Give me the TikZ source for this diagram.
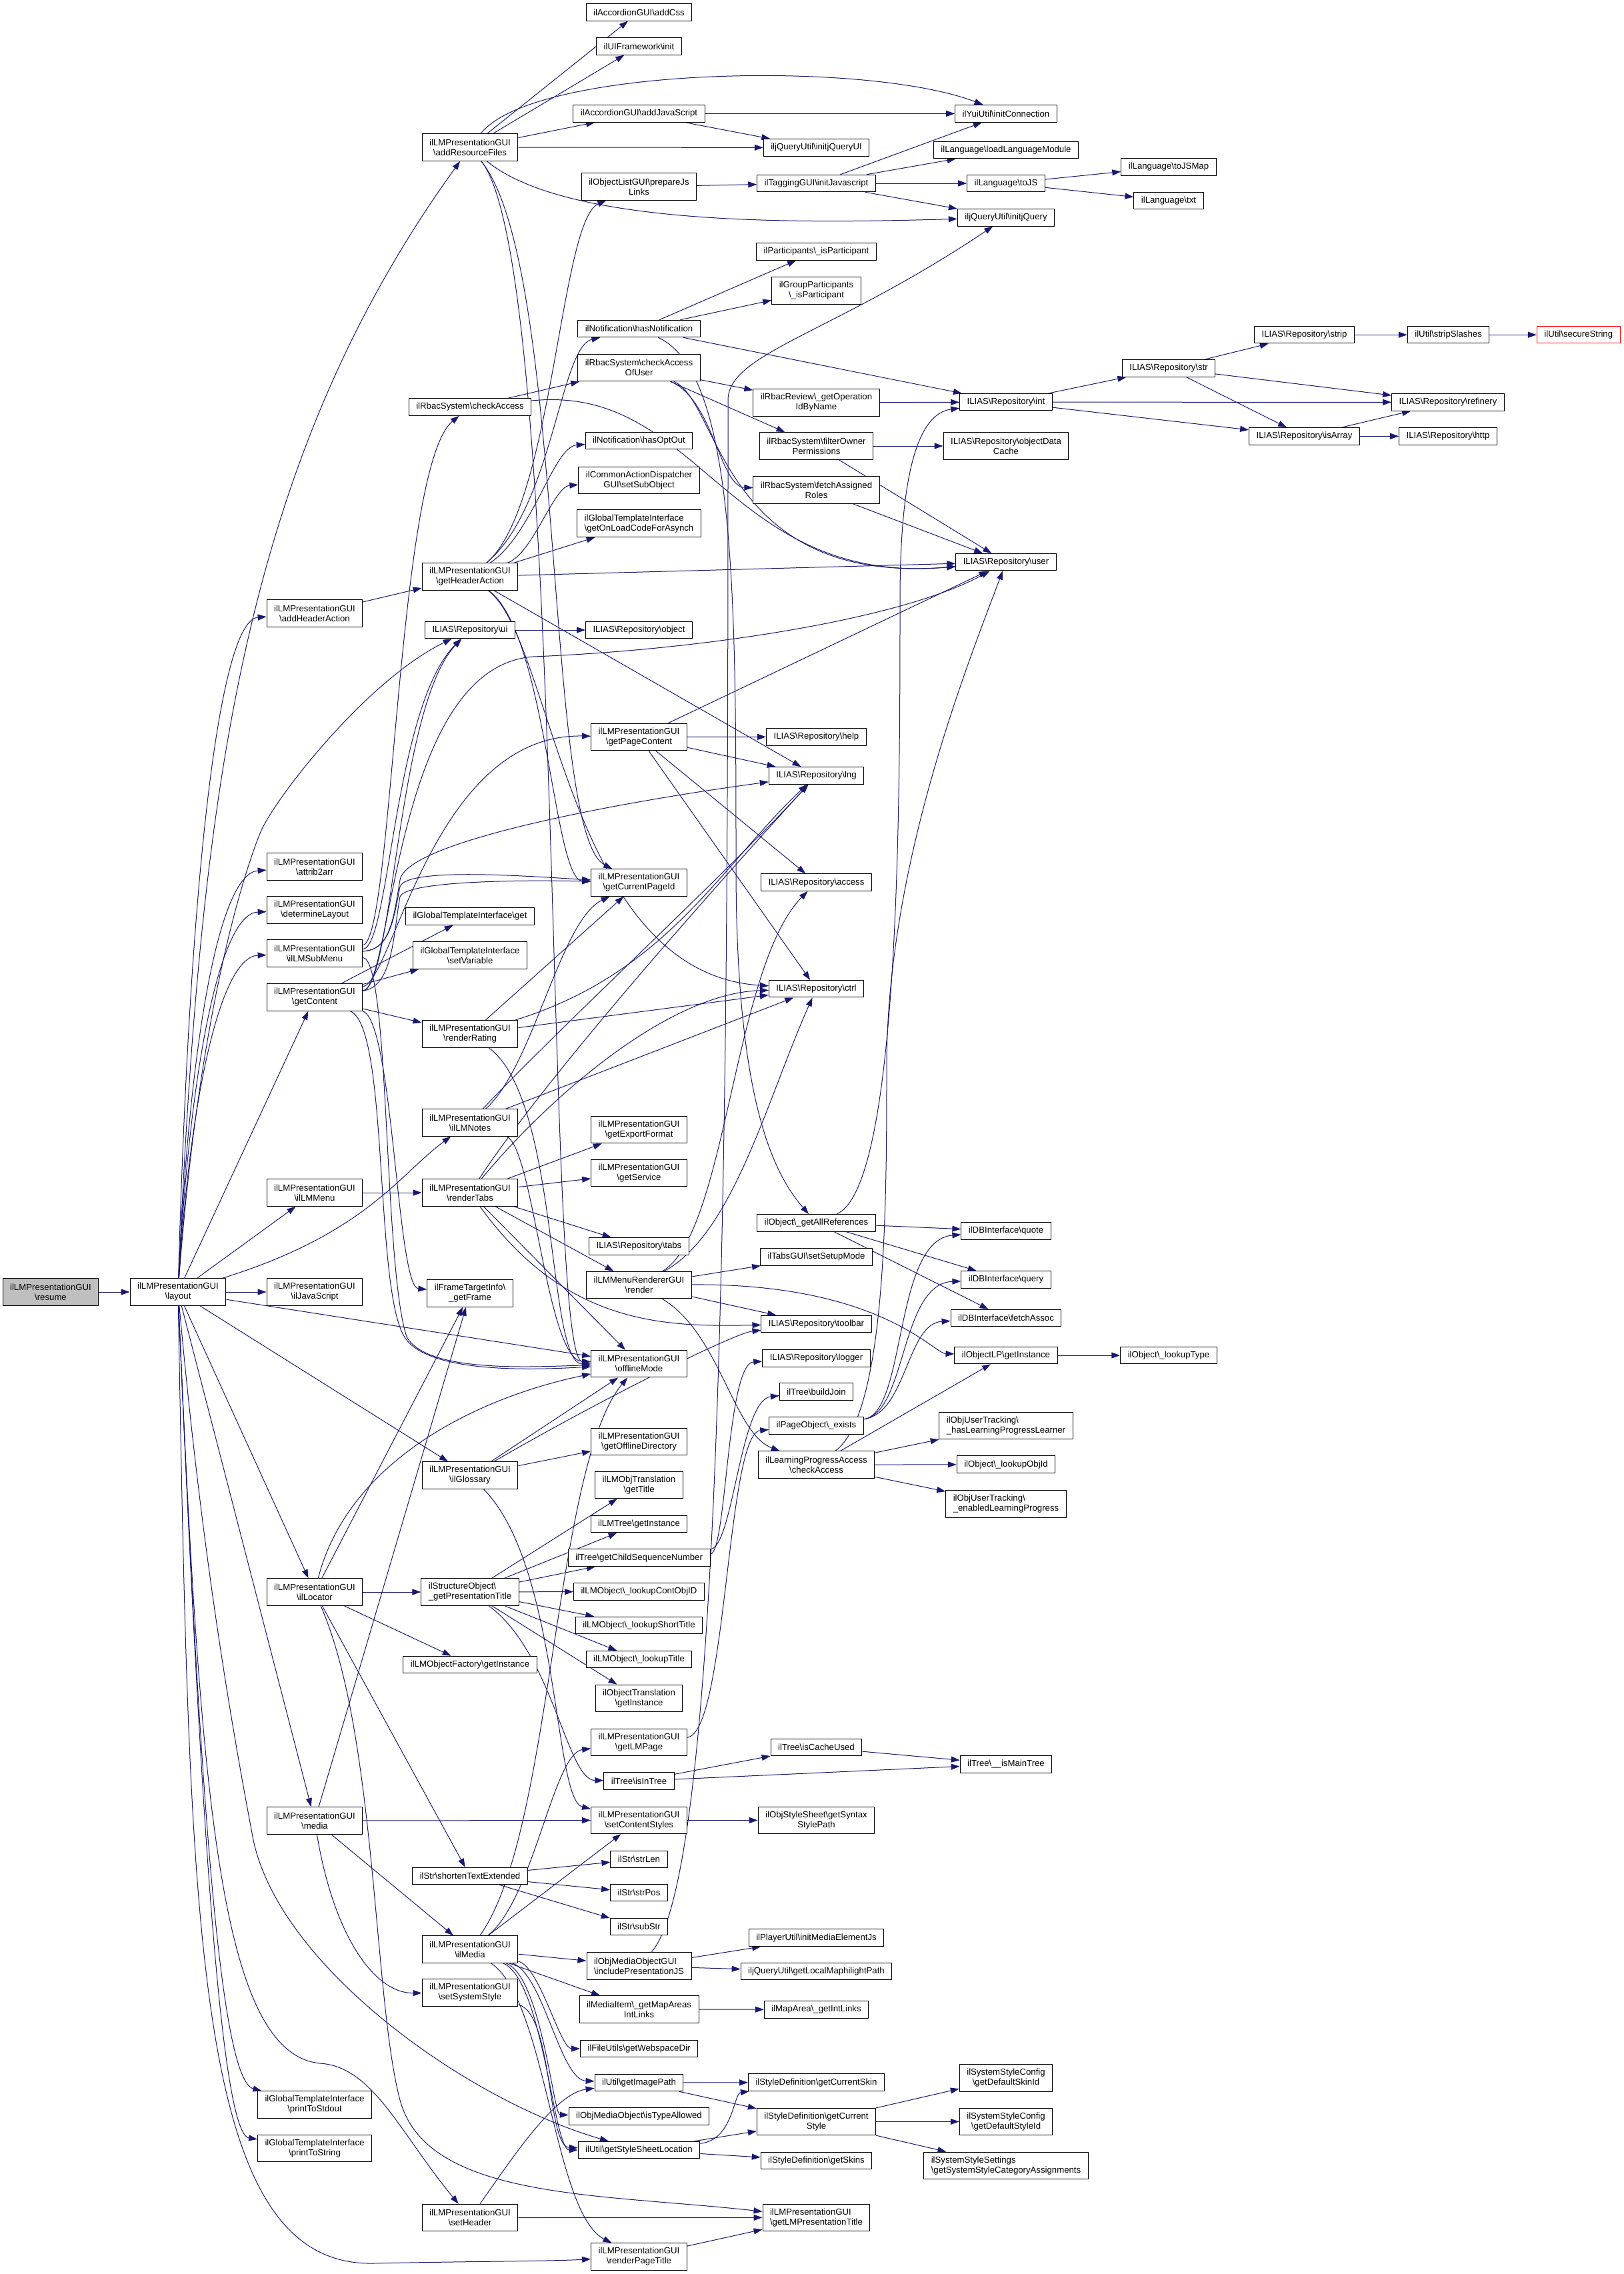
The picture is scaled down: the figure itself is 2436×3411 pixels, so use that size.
\documentclass[tikz,border=0pt]{standalone}
\usepackage{fontspec}
\setmainfont{Liberation Sans}
\usetikzlibrary{arrows.meta}
\pgfdeclarelayer{bg}
\pgfsetlayers{bg,main}
\definecolor{edgec}{HTML}{191970}
\definecolor{grayfill}{HTML}{BFBFBF}
\newcommand{\bsl}{\textbackslash}
\newcommand{\dxfont}{\fontsize{13.2}{15}\selectfont}
\tikzset{
  box/.style={draw=black, line width=1pt, fill=white, font=\dxfont, inner xsep=11pt, inner ysep=2pt, minimum height=25.5pt, align=center},
  box2/.style={box, minimum height=40.5pt},
  boxl/.style={box2, align=left},
  e/.style={draw=edgec, line width=1pt, -{Triangle[length=13pt,width=9pt]}},
}
\begin{document}
\begin{tikzpicture}[x=1pt,y=-1pt]
\useasboundingbox (0,0) rectangle (2436,3411);
% column 1-2
\node[box2,fill=grayfill] (resume) at (76,1938) {ilLMPresentationGUI\\\bsl resume};
\node[box2] (layout) at (267,1938) {ilLMPresentationGUI\\\bsl layout};
% column 3
\node[box2] (addHeaderAction) at (472,920) {ilLMPresentationGUI\\\bsl addHeaderAction};
\node[box2] (attrib2arr) at (472,1300) {ilLMPresentationGUI\\\bsl attrib2arr};
\node[box2] (determineLayout) at (472,1365) {ilLMPresentationGUI\\\bsl determineLayout};
\node[box2] (lmSubMenu) at (472,1430) {ilLMPresentationGUI\\\bsl ilLMSubMenu};
\node[box2] (getContent) at (472,1496) {ilLMPresentationGUI\\\bsl getContent};
\node[box2] (lmMenu) at (472,1789) {ilLMPresentationGUI\\\bsl ilLMMenu};
\node[box2] (ilJavaScript) at (472,1938) {ilLMPresentationGUI\\\bsl ilJavaScript};
\node[box2] (ilLocator) at (472,2388) {ilLMPresentationGUI\\\bsl ilLocator};
\node[box2] (media) at (472,2731) {ilLMPresentationGUI\\\bsl media};
\node[box2] (printToStdout) at (472,3157) {ilGlobalTemplateInterface\\\bsl printToStdout};
\node[box2] (printToString) at (472,3222.5) {ilGlobalTemplateInterface\\\bsl printToString};
% column 4
\node[box2] (addResourceFiles) at (705,221) {ilLMPresentationGUI\\\bsl addResourceFiles};
\node[box] (rbacCheckAccess) at (705,610.5) {ilRbacSystem\bsl checkAccess};
\node[box2] (getHeaderAction) at (705,865) {ilLMPresentationGUI\\\bsl getHeaderAction};
\node[box] (repoUi) at (705,945) {ILIAS\bsl Repository\bsl ui};
\node[box] (gtiGet) at (705,1374.5) {ilGlobalTemplateInterface\bsl get};
\node[box2] (gtiSetVariable) at (705,1433) {ilGlobalTemplateInterface\\\bsl setVariable};
\node[box2] (renderRating) at (705,1551) {ilLMPresentationGUI\\\bsl renderRating};
\node[box2] (lmNotes) at (705,1684) {ilLMPresentationGUI\\\bsl ilLMNotes};
\node[box2] (renderTabs) at (705,1789) {ilLMPresentationGUI\\\bsl renderTabs};
\node[box2] (getFrame) at (705,1940) {ilFrameTargetInfo\bsl\\\_getFrame};
\node[box2] (glossary) at (705,2213) {ilLMPresentationGUI\\\bsl ilGlossary};
\node[boxl] (getPresTitle) at (705,2388) {ilStructureObject\bsl\\\_getPresentationTitle};
\node[box] (lmObjFactory) at (705,2497) {ilLMObjectFactory\bsl getInstance};
\node[box] (shortenText) at (705,2814) {ilStr\bsl shortenTextExtended};
\node[box2] (ilMedia) at (705,2924) {ilLMPresentationGUI\\\bsl ilMedia};
\node[box2] (setSystemStyle) at (705,2989) {ilLMPresentationGUI\\\bsl setSystemStyle};
\node[box2] (setHeader) at (705,3326.5) {ilLMPresentationGUI\\\bsl setHeader};
% column 5
\node[box] (addCss) at (958.5,18.3) {ilAccordionGUI\bsl addCss};
\node[box] (uiInit) at (958.5,69.4) {ilUIFramework\bsl init};
\node[box] (addJS) at (958.5,170.4) {ilAccordionGUI\bsl addJavaScript};
\node[box2] (prepareJs) at (958.5,280) {ilObjectListGUI\bsl prepareJs\\Links};
\node[box] (hasNotif) at (958.5,493) {ilNotification\bsl hasNotification};
\node[box2] (checkAccessOfUser) at (958.5,551.6) {ilRbacSystem\bsl checkAccess\\OfUser};
\node[box] (hasOptOut) at (958.5,661) {ilNotification\bsl hasOptOut};
\node[box2] (setSubObject) at (958.5,720.3) {ilCommonActionDispatcher\\GUI\bsl setSubObject};
\node[boxl] (getOnLoad) at (958.5,785.2) {ilGlobalTemplateInterface\\\bsl getOnLoadCodeForAsynch};
\node[box] (repoObject) at (958.5,945) {ILIAS\bsl Repository\bsl object};
\node[box2] (getPageContent) at (958.5,1105.5) {ilLMPresentationGUI\\\bsl getPageContent};
\node[box2] (getCurrentPageId) at (958.5,1324) {ilLMPresentationGUI\\\bsl getCurrentPageId};
\node[box2] (getExportFormat) at (958.5,1694.6) {ilLMPresentationGUI\\\bsl getExportFormat};
\node[box2] (getService) at (958.5,1759.4) {ilLMPresentationGUI\\\bsl getService};
\node[box] (repoTabs) at (958.5,1869.3) {ILIAS\bsl Repository\bsl tabs};
\node[box2] (menuRender) at (958.5,1927.5) {ilLMMenuRendererGUI\\\bsl render};
\node[box2] (offlineMode) at (958.5,2045.7) {ilLMPresentationGUI\\\bsl offlineMode};
\node[box2] (getOfflineDir) at (958.5,2162.5) {ilLMPresentationGUI\\\bsl getOfflineDirectory};
\node[box2] (lmObjTransTitle) at (958.5,2227.4) {ilLMObjTranslation\\\bsl getTitle};
\node[box] (lmTreeInst) at (958.5,2286) {ilLMTree\bsl getInstance};
\node[box] (childSeq) at (958.5,2336.6) {ilTree\bsl getChildSequenceNumber};
\node[box] (lookupContObjID) at (958.5,2387.3) {ilLMObject\bsl\_lookupContObjID};
\node[box] (lookupShortTitle) at (958.5,2438) {ilLMObject\bsl\_lookupShortTitle};
\node[box] (lookupTitle) at (958.5,2489.2) {ilLMObject\bsl\_lookupTitle};
\node[box2] (objTransInst) at (958.5,2547.4) {ilObjectTranslation\\\bsl getInstance};
\node[box2] (getLMPage) at (958.5,2613.5) {ilLMPresentationGUI\\\bsl getLMPage};
\node[box] (isInTree) at (958.5,2671.4) {ilTree\bsl isInTree};
\node[box2] (setContentStyles) at (958.5,2730.4) {ilLMPresentationGUI\\\bsl setContentStyles};
\node[box] (strLen) at (958.5,2789) {ilStr\bsl strLen};
\node[box] (strPos) at (958.5,2839) {ilStr\bsl strPos};
\node[box] (subStr) at (958.5,2890.2) {ilStr\bsl subStr};
\node[boxl] (inclPresJS) at (958.5,2949) {ilObjMediaObjectGUI\\\bsl includePresentationJS};
\node[box2] (mapAreas) at (958.5,3014) {ilMediaItem\bsl\_getMapAreas\\IntLinks};
\node[box] (webspaceDir) at (958.5,3073) {ilFileUtils\bsl getWebspaceDir};
\node[box] (getImagePath) at (958.5,3124) {ilUtil\bsl getImagePath};
\node[box] (isTypeAllowed) at (958.5,3174.4) {ilObjMediaObject\bsl isTypeAllowed};
\node[box] (styleSheetLoc) at (958.5,3225) {ilUtil\bsl getStyleSheetLocation};
\node[box2] (renderPageTitle) at (958.5,3385) {ilLMPresentationGUI\\\bsl renderPageTitle};
% column 6
\node[box] (initjQueryUI) at (1224.5,221.4) {iljQueryUtil\bsl initjQueryUI};
\node[box] (initJavascript) at (1224.5,275) {ilTaggingGUI\bsl initJavascript};
\node[box] (isParticipant) at (1224.5,377.4) {ilParticipants\bsl\_isParticipant};
\node[box2] (grpIsParticipant) at (1224.5,436) {ilGroupParticipants\\\bsl\_isParticipant};
\node[box2] (getOpId) at (1224.5,603.8) {ilRbacReview\bsl\_getOperation\\IdByName};
\node[box2] (filterOwner) at (1224.5,669) {ilRbacSystem\bsl filterOwner\\Permissions};
\node[box2] (fetchRoles) at (1224.5,734.8) {ilRbacSystem\bsl fetchAssigned\\Roles};
\node[box] (repoHelp) at (1224.5,1105.3) {ILIAS\bsl Repository\bsl help};
\node[box] (repoLng) at (1224.5,1163.3) {ILIAS\bsl Repository\bsl lng};
\node[box] (repoAccess) at (1224.5,1323.6) {ILIAS\bsl Repository\bsl access};
\node[box] (repoCtrl) at (1224.5,1483.2) {ILIAS\bsl Repository\bsl ctrl};
\node[box] (getAllRefs) at (1224.5,1834.3) {ilObject\bsl\_getAllReferences};
\node[box] (setSetupMode) at (1224.5,1885.3) {ilTabsGUI\bsl setSetupMode};
\node[box] (repoToolbar) at (1224.5,1986) {ILIAS\bsl Repository\bsl toolbar};
\node[box] (repoLogger) at (1224.5,2037.4) {ILIAS\bsl Repository\bsl logger};
\node[box] (buildJoin) at (1224.5,2087.3) {ilTree\bsl buildJoin};
\node[box] (pageExists) at (1224.5,2138.4) {ilPageObject\bsl\_exists};
\node[box2] (lpCheckAccess) at (1224.5,2197.2) {ilLearningProgressAccess\\\bsl checkAccess};
\node[box] (isCacheUsed) at (1224.5,2621) {ilTree\bsl isCacheUsed};
\node[box2] (syntaxStyle) at (1224.5,2730.4) {ilObjStyleSheet\bsl getSyntax\\StylePath};
\node[box] (mediaElemJs) at (1224.5,2906.7) {ilPlayerUtil\bsl initMediaElementJs};
\node[box] (maphilight) at (1224.5,2957) {iljQueryUtil\bsl getLocalMaphilightPath};
\node[box] (mapAreaLinks) at (1224.5,3014.3) {ilMapArea\bsl\_getIntLinks};
\node[box] (curSkin) at (1224.5,3123.6) {ilStyleDefinition\bsl getCurrentSkin};
\node[box2] (curStyle) at (1224.5,3182.4) {ilStyleDefinition\bsl getCurrent\\Style};
\node[box] (getSkins) at (1224.5,3240.9) {ilStyleDefinition\bsl getSkins};
\node[boxl] (lmPresTitle) at (1224.5,3326.3) {ilLMPresentationGUI\\\bsl getLMPresentationTitle};
% column 7
\node[box] (initConn) at (1509,170.4) {ilYuiUtil\bsl initConnection};
\node[box] (loadLangMod) at (1509,225) {ilLanguage\bsl loadLanguageModule};
\node[box] (toJS) at (1509,275) {ilLanguage\bsl toJS};
\node[box] (initjQuery) at (1509,326.3) {iljQueryUtil\bsl initjQuery};
\node[box] (repoInt) at (1509,603.2) {ILIAS\bsl Repository\bsl int};
\node[box2] (objDataCache) at (1509,669) {ILIAS\bsl Repository\bsl objectData\\Cache};
\node[box] (repoUser) at (1509,843.2) {ILIAS\bsl Repository\bsl user};
\node[box] (dbQuote) at (1509,1846.5) {ilDBInterface\bsl quote};
\node[box] (dbQuery) at (1509,1919.4) {ilDBInterface\bsl query};
\node[box] (dbFetch) at (1509,1977) {ilDBInterface\bsl fetchAssoc};
\node[box] (objLPInst) at (1509,2033) {ilObjectLP\bsl getInstance};
\node[boxl] (hasLPLearner) at (1509,2138.4) {ilObjUserTracking\bsl\\\_hasLearningProgressLearner};
\node[box] (lookupObjId) at (1509,2196.7) {ilObject\bsl\_lookupObjId};
\node[boxl] (enabledLP) at (1509,2255.8) {ilObjUserTracking\bsl\\\_enabledLearningProgress};
\node[box] (isMainTree) at (1509,2646.4) {ilTree\bsl\_\_isMainTree};
\node[box2] (defSkinId) at (1509,3117) {ilSystemStyleConfig\\\bsl getDefaultSkinId};
\node[box2] (defStyleId) at (1509,3182.4) {ilSystemStyleConfig\\\bsl getDefaultStyleId};
\node[boxl] (catAssign) at (1509,3248.3) {ilSystemStyleSettings\\\bsl getSystemStyleCategoryAssignments};
% columns 8-11
\node[box] (toJSMap) at (1753,250.3) {ilLanguage\bsl toJSMap};
\node[box] (langTxt) at (1753,301) {ilLanguage\bsl txt};
\node[box] (repoStr) at (1753,552.4) {ILIAS\bsl Repository\bsl str};
\node[box] (lookupType) at (1753,2033) {ilObject\bsl\_lookupType};
\node[box] (repoStrip) at (1956.5,502.2) {ILIAS\bsl Repository\bsl strip};
\node[box] (isArray) at (1956.5,654.3) {ILIAS\bsl Repository\bsl isArray};
\node[box] (stripSlashes) at (2172.6,502.2) {ilUtil\bsl stripSlashes};
\node[box] (refinery) at (2172,603.3) {ILIAS\bsl Repository\bsl refinery};
\node[box] (repoHttp) at (2172,654.3) {ILIAS\bsl Repository\bsl http};
\node[box,draw=red] (secureString) at (2367.8,502.2) {ilUtil\bsl secureString};

\begin{pgfonlayer}{bg}
\foreach \src/\dst in {resume/layout,
 layout/getContent, layout/lmMenu, layout/ilJavaScript, layout/offlineMode, layout/glossary, layout/ilLocator, layout/media,
 addResourceFiles/addCss, addResourceFiles/uiInit, addResourceFiles/addJS, addResourceFiles/initjQueryUI,
 addJS/initConn, addJS/initjQueryUI, prepareJs/initJavascript,
 initJavascript/initConn, initJavascript/loadLangMod, initJavascript/toJS, initJavascript/initjQuery,
 toJS/toJSMap, toJS/langTxt, addHeaderAction/getHeaderAction,
 getHeaderAction/getOnLoad, getHeaderAction/repoUser, getHeaderAction/repoLng,
 rbacCheckAccess/checkAccessOfUser,
 hasNotif/isParticipant, hasNotif/grpIsParticipant, hasNotif/repoInt,
 checkAccessOfUser/getOpId, checkAccessOfUser/filterOwner, getOpId/repoInt,
 filterOwner/objDataCache, filterOwner/repoUser, fetchRoles/repoUser,
 repoInt/repoStr, repoInt/refinery, repoInt/isArray,
 repoStr/repoStrip, repoStr/refinery, repoStr/isArray,
 repoStrip/stripSlashes, stripSlashes/secureString, isArray/refinery, isArray/repoHttp,
 repoUi/repoObject,
 getContent/gtiGet, getContent/gtiSetVariable, getContent/renderRating,
 getPageContent/repoUser, getPageContent/repoHelp, getPageContent/repoLng, getPageContent/repoAccess, getPageContent/repoCtrl,
 renderRating/getCurrentPageId, renderRating/repoCtrl, lmNotes/repoCtrl, lmMenu/renderTabs,
 renderTabs/getExportFormat, renderTabs/getService, renderTabs/repoTabs, renderTabs/menuRender, renderTabs/offlineMode,
 menuRender/setSetupMode, menuRender/repoToolbar,
 getAllRefs/dbQuote, getAllRefs/dbQuery, getAllRefs/dbFetch,
 lpCheckAccess/objLPInst, lpCheckAccess/hasLPLearner, lpCheckAccess/lookupObjId, lpCheckAccess/enabledLP,
 objLPInst/lookupType, glossary/offlineMode, glossary/getOfflineDir,
 ilLocator/getPresTitle, ilLocator/lmObjFactory, ilLocator/getFrame, ilLocator/shortenText,
 getPresTitle/lmObjTransTitle, getPresTitle/lmTreeInst, getPresTitle/childSeq, getPresTitle/lookupContObjID,
 getPresTitle/lookupShortTitle, getPresTitle/lookupTitle, getPresTitle/objTransInst,
 isInTree/isCacheUsed, isInTree/isMainTree, isCacheUsed/isMainTree,
 shortenText/strLen, shortenText/strPos, shortenText/subStr, setContentStyles/syntaxStyle,
 media/setContentStyles, media/ilMedia, media/getFrame,
 ilMedia/setContentStyles, ilMedia/inclPresJS, ilMedia/mapAreas,
 setHeader/lmPresTitle, renderPageTitle/lmPresTitle,
 inclPresJS/mediaElemJs, inclPresJS/maphilight, mapAreas/mapAreaLinks,
 getImagePath/curSkin, getImagePath/curStyle, styleSheetLoc/curStyle, styleSheetLoc/getSkins,
 curStyle/defSkinId, curStyle/defStyleId, curStyle/catAssign}
 \draw[e] (\src) -- (\dst);

% curved connectors
\draw[e] (layout) .. controls (285,1300) and (330,930) .. (addHeaderAction);
\draw[e] (layout) .. controls (285,1550) and (330,1310) .. (attrib2arr);
\draw[e] (layout) .. controls (285,1600) and (330,1370) .. (determineLayout);
\draw[e] (layout) .. controls (285,1650) and (330,1435) .. (lmSubMenu);
\draw[e] (layout) .. controls (300,1200) and (360,700) .. (addResourceFiles);
\draw[e] (layout) .. controls (300,1500) and (370,1300) .. (390,1250) .. controls (410,1200) and (550,1020) .. (repoUi);
\draw[e] (layout) .. controls (550,1850) and (600,1760) .. (lmNotes);
\draw[e] (layout) .. controls (300,2700) and (330,3120) .. (printToStdout);
\draw[e] (layout) .. controls (300,2700) and (330,3200) .. (printToString);
\draw[e] (layout) .. controls (300,2700) and (330,3080) .. (480,3095) .. controls (560,3100) and (600,3200) .. (setHeader);
\draw[e] (layout) .. controls (285,2900) and (290,3400) .. (560,3395) .. controls (700,3392) and (820,3392) .. (renderPageTitle);
\draw[e] (layout) .. controls (300,2300) and (340,2550) .. (380,2760) .. controls (420,2950) and (700,3150) .. (styleSheetLoc);

\draw[e] (addResourceFiles) .. controls (800,100) and (1300,90) .. (initConn);
\draw[e] (addResourceFiles) .. controls (850,340) and (1200,335) .. (initjQuery);
\draw[e] (addResourceFiles) .. controls (850,400) and (815,1250) .. (getCurrentPageId);
\draw[e] (addResourceFiles) .. controls (850,400) and (815,2040) .. (offlineMode);

\draw[e] (getHeaderAction) .. controls (830,760) and (840,330) .. (prepareJs);
\draw[e] (getHeaderAction) .. controls (830,760) and (840,520) .. (hasNotif);
\draw[e] (getHeaderAction) .. controls (800,800) and (830,670) .. (hasOptOut);
\draw[e] (getHeaderAction) .. controls (800,830) and (830,730) .. (setSubObject);
\draw[e] (getHeaderAction) .. controls (830,960) and (850,1460) .. (repoCtrl);
\draw[e] (getHeaderAction) .. controls (820,950) and (830,1320) .. (getCurrentPageId);

\draw[e] (rbacCheckAccess) .. controls (1050,575) and (1090,880) .. (repoUser);
\draw[e] (checkAccessOfUser) .. controls (1080,600) and (1080,880) .. (repoUser);
\draw[e] (checkAccessOfUser) .. controls (1070,600) and (1080,730) .. (fetchRoles);
\draw[e] (hasNotif) .. controls (1104,560) and (1104,900) .. (1104,1300) .. controls (1104,1650) and (1160,1760) .. (getAllRefs);
\draw[e] (inclPresJS) .. controls (1092,2800) and (1092,1500) .. (1092,600) .. controls (1092,530) and (1250,500) .. (initjQuery);

\draw[e] (getContent) .. controls (590,1480) and (595,1060) .. (repoUi);
\draw[e] (getContent) .. controls (590,1470) and (650,1100) .. (getPageContent);
\draw[e] (getContent) .. controls (590,1480) and (590,1400) .. (600,1345) .. controls (610,1320) and (800,1320) .. (getCurrentPageId);
\draw[e] (getContent) .. controls (590,1480) and (590,1000) .. (800,985) .. controls (1050,975) and (1350,930) .. (repoUser);
\draw[e] (getContent) .. controls (590,1530) and (595,1930) .. (getFrame);
\draw[e] (getContent) .. controls (585,1540) and (560,1950) .. (610,2010) .. controls (650,2060) and (800,2055) .. (offlineMode);

\draw[e] (lmSubMenu) .. controls (585,1420) and (590,1060) .. (repoUi);
\draw[e] (lmSubMenu) .. controls (590,1410) and (595,700) .. (rbacCheckAccess);
\draw[e] (lmSubMenu) .. controls (585,1425) and (590,1380) .. (600,1320) .. controls (610,1260) and (950,1200) .. (repoLng);
\draw[e] (lmSubMenu) .. controls (585,1425) and (590,1380) .. (600,1330) .. controls (610,1300) and (800,1315) .. (getCurrentPageId);
\draw[e] (lmSubMenu) .. controls (585,1440) and (575,1900) .. (610,2005) .. controls (640,2060) and (800,2050) .. (offlineMode);

\draw[e] (renderRating) .. controls (1000,1460) and (1080,1300) .. (repoLng);
\draw[e] (renderRating) .. controls (840,1650) and (820,2046) .. (offlineMode);
\draw[e] (lmNotes) .. controls (830,1550) and (1100,1300) .. (repoLng);
\draw[e] (lmNotes) .. controls (800,1600) and (840,1380) .. (getCurrentPageId);
\draw[e] (lmNotes) .. controls (800,1720) and (820,2040) .. (offlineMode);
\draw[e] (renderTabs) .. controls (820,1650) and (1000,1490) .. (repoCtrl);
\draw[e] (renderTabs) .. controls (830,1600) and (1100,1300) .. (repoLng);
\draw[e] (renderTabs) .. controls (850,1990) and (1000,1990) .. (repoToolbar);

\draw[e] (menuRender) .. controls (1320,1925) and (1400,2030) .. (objLPInst);
\draw[e] (menuRender) .. controls (1080,2000) and (1100,2150) .. (lpCheckAccess);
\draw[e] (menuRender) .. controls (1100,1850) and (1150,1650) .. (repoCtrl);
\draw[e] (menuRender) .. controls (1090,1850) and (1100,1450) .. (repoAccess);
\draw[e] (lpCheckAccess) .. controls (1330,2120) and (1330,1800) .. (1330,1600) .. controls (1330,1300) and (1450,1000) .. (repoUser);
\draw[e] (getAllRefs) .. controls (1350,1780) and (1350,1200) .. (1350,900) .. controls (1350,700) and (1380,620) .. (repoInt);
\draw[e] (pageExists) .. controls (1360,2120) and (1340,1860) .. (dbQuote);
\draw[e] (pageExists) .. controls (1360,2120) and (1350,1925) .. (dbQuery);
\draw[e] (pageExists) .. controls (1360,2120) and (1360,1985) .. (dbFetch);

\draw[e] (glossary) .. controls (900,2100) and (1100,2000) .. (repoToolbar);
\draw[e] (glossary) .. controls (840,2350) and (830,2700) .. (setContentStyles);
\draw[e] (ilLocator) .. controls (520,2200) and (700,2100) .. (offlineMode);
\draw[e] (ilLocator) .. controls (565,2600) and (560,3000) .. (600,3150) .. controls (640,3300) and (900,3290) .. (lmPresTitle);
\draw[e] (getPresTitle) .. controls (830,2480) and (850,2670) .. (isInTree);
\draw[e] (childSeq) .. controls (1100,2320) and (1110,2100) .. (buildJoin);
\draw[e] (childSeq) .. controls (1090,2330) and (1090,2045) .. (repoLogger);
\draw[e] (getLMPage) .. controls (1090,2600) and (1090,2150) .. (pageExists);

\draw[e] (media) .. controls (500,2900) and (560,2990) .. (setSystemStyle);
\draw[e] (ilMedia) .. controls (830,2750) and (830,2200) .. (offlineMode);
\draw[e] (ilMedia) .. controls (800,2850) and (830,2630) .. (getLMPage);
\draw[e] (ilMedia) .. controls (810,2950) and (840,3073) .. (webspaceDir);
\draw[e] (ilMedia) .. controls (815,2960) and (840,3120) .. (getImagePath);
\draw[e] (ilMedia) .. controls (812,2965) and (830,3172) .. (isTypeAllowed);
\draw[e] (ilMedia) .. controls (815,2970) and (830,3225) .. (styleSheetLoc);
\draw[e] (ilMedia) .. controls (820,3000) and (830,3320) .. (renderPageTitle);
\draw[e] (setSystemStyle) .. controls (830,3020) and (820,3220) .. (styleSheetLoc);
\draw[e] (setHeader) .. controls (760,3250) and (830,3140) .. (getImagePath);
\draw[e] (styleSheetLoc) .. controls (1100,3210) and (1100,3140) .. (curSkin);
\end{pgfonlayer}
\end{tikzpicture}
\end{document}
